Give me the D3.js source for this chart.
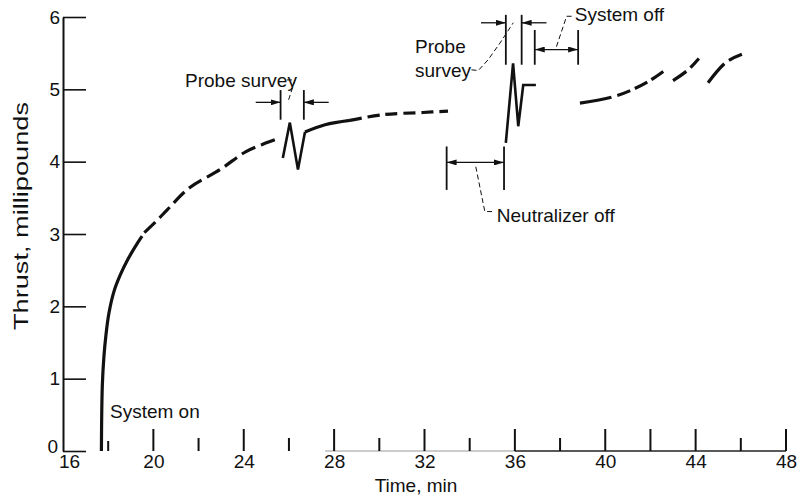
<!DOCTYPE html>
<html>
<head>
<meta charset="utf-8">
<script src="https://cdn.jsdelivr.net/npm/d3@7"></script>
<style>
  body { margin: 0; background: #fff; }
  svg { display: block; }
  text { font-family: "Liberation Sans", Arial, sans-serif; fill: #111; }
</style>
</head>
<body>
<script>
// time (min) vs thrust (millipounds)
var rampSolid = [[17.70, 0], [17.71, 0.4], [17.74, 0.9], [17.81, 1.3], [17.90, 1.6], [18.03, 1.9], [18.25, 2.2], [18.53, 2.43], [18.89, 2.66], [19.33, 2.89], [19.5, 2.97]];
var rampDashed = [[19.6, 3.02], [20.2, 3.2], [20.6, 3.33], [21.6, 3.64], [22.95, 3.89], [24.1, 4.14], [25.0, 4.26], [25.6, 4.33]];
var probe1Zig = [[25.73, 4.05], [26.04, 4.54], [26.4, 3.89], [26.71, 4.41]];
var plateauSolid = [[26.71, 4.41], [27.6, 4.51], [28.7, 4.57]];
var plateauDashed = [[28.7, 4.57], [30.16, 4.65], [31.93, 4.68], [33.04, 4.70]];
var probe2Zig = [[35.6, 4.26], [35.92, 5.36], [36.15, 4.49], [36.37, 5.06], [36.93, 5.06]];
var restartA = [[38.88, 4.81], [40.28, 4.89], [41.16, 4.99], [41.97, 5.12], [42.71, 5.28]];
var restartB = [[43.0, 5.12], [43.67, 5.27], [44.26, 5.47]];
var restartC = [[44.55, 5.09], [45.37, 5.38], [46.18, 5.50]];

var yTicks = [0, 1, 2, 3, 4, 5, 6];
var xLabels = [16, 20, 24, 28, 32, 36, 40, 44, 48];
var xTickMarks = [18, 20, 22, 24, 26, 28, 30, 32, 34, 36, 38, 40, 42, 44, 46, 48];

// interval brackets: t0/t1 = edges, vLo/vHi = vertical extent, vArrow = arrow level
var brackets = [
	{ t0: 25.63, t1: 26.66, vLo: 4.58, vHi: 4.99, vArrow: 4.82, inward: true, reach: 1.1 },
	{ t0: 35.6, t1: 36.3, vLo: 5.34, vHi: 6.03, vArrow: 5.92, inward: true, reach: 1.1 },
	{ t0: 36.88, t1: 38.8, vLo: 5.34, vHi: 5.82, vArrow: 5.55, inward: false },
	{ t0: 32.98, t1: 35.52, vLo: 3.61, vHi: 4.21, vArrow: 3.99, inward: false }
];
var leaders = [
	[[25.91, 5.13], [26.27, 5.13], [25.96, 4.83]],
	[[34.08, 5.27], [34.38, 5.26], [34.82, 5.41], [35.34, 5.64], [35.93, 5.92]],
	[[37.84, 5.59], [38.29, 6.01], [38.58, 6.01]],
	[[34.27, 3.93], [34.67, 3.31], [35.12, 3.31]]
];
var labels = [
	{ t: 18.08, v: 0.46, text: 'System on' },
	{ t: 21.4, v: 5.03, text: 'Probe survey' },
	{ t: 31.58, v: 5.5, text: 'Probe' },
	{ t: 31.58, v: 5.17, text: 'survey' },
	{ t: 38.65, v: 5.94, text: 'System off' },
	{ t: 35.2, v: 3.17, text: 'Neutralizer off' }
];

var width = 800, height = 499;
var x = d3.scaleLinear().domain([16, 48]).range([63, 786]);
var y = d3.scaleLinear().domain([0, 6]).range([451, 17]);

var svg = d3.select('body').append('svg')
	.attr('width', width)
	.attr('height', height);

svg.append('defs').append('marker')
	.attr('id', 'arrow')
	.attr('viewBox', '0 0 10 6')
	.attr('refX', 10).attr('refY', 3)
	.attr('markerWidth', 10).attr('markerHeight', 6)
	.attr('markerUnits', 'userSpaceOnUse')
	.attr('orient', 'auto-start-reverse')
	.append('path')
	.attr('d', 'M0,0 L10,3 L0,6 Z')
	.attr('fill', '#111');

// y axis, ticks pointing inward
var yAxis = d3.axisLeft(y).tickValues(yTicks).tickFormat(d3.format('d'))
	.tickSizeInner(-23).tickSizeOuter(0).tickPadding(3);
var gy = svg.append('g').attr('transform', 'translate(63,0)').call(yAxis);
gy.select('.domain').attr('stroke', '#111').attr('stroke-width', 2);
gy.selectAll('.tick line').attr('stroke', '#111').attr('stroke-width', 1.6);
gy.selectAll('.tick text')
	.attr('font-size', 19)
	.attr('font-family', '"Liberation Sans", Arial, sans-serif')
	.attr('dx', d => d === 0 ? -2 : 0)
	.attr('dy', d => d === 0 ? '0.1em' : '0.32em');

// x axis: partial baseline, upward ticks, labels
svg.append('line')
	.attr('x1', x(27.6)).attr('x2', x(36)).attr('y1', y(0)).attr('y2', y(0))
	.attr('stroke', '#999').attr('stroke-width', 1.2);
svg.append('line')
	.attr('x1', x(36)).attr('x2', x(48)).attr('y1', y(0)).attr('y2', y(0))
	.attr('stroke', '#222').attr('stroke-width', 1.4);

svg.append('g').selectAll('line')
	.data(xTickMarks)
	.join('line')
	.attr('x1', d => x(d)).attr('x2', d => x(d))
	.attr('y1', y(0))
	.attr('y2', d => y(0) - (d === 18 ? 10 : (d % 4 === 0 || d === 42) ? 22 : 13))
	.attr('stroke', '#111').attr('stroke-width', 2);

var xAxis = d3.axisBottom(x).tickValues(xLabels).tickSize(0).tickPadding(4);
var gx = svg.append('g').attr('transform', 'translate(0,' + y(0) + ')').call(xAxis);
gx.select('.domain').remove();
gx.selectAll('.tick text')
	.attr('font-size', 19)
	.attr('font-family', '"Liberation Sans", Arial, sans-serif')
	.attr('dx', d => d === 16 ? 6 : 0);

svg.append('text')
	.attr('x', 416).attr('y', 492)
	.attr('text-anchor', 'middle')
	.attr('font-size', 19)
	.text('Time, min');

svg.append('text')
	.attr('transform', 'translate(28,216) rotate(-90)')
	.attr('text-anchor', 'middle')
	.attr('font-size', 20)
	.attr('textLength', 228)
	.attr('lengthAdjust', 'spacingAndGlyphs')
	.text('Thrust, millipounds');

// thrust curve pieces
var smooth = d3.line().x(d => x(d[0])).y(d => y(d[1])).curve(d3.curveCatmullRom.alpha(0.5));
var straight = d3.line().x(d => x(d[0])).y(d => y(d[1]));

var pieces = [
	{ data: rampSolid, gen: smooth, dash: null, w: 3.2 },
	{ data: rampDashed, gen: smooth, dash: '15,6', w: 3.2 },
	{ data: probe1Zig, gen: straight, dash: null, w: 2.6 },
	{ data: plateauSolid, gen: smooth, dash: null, w: 3.2 },
	{ data: plateauDashed, gen: smooth, dash: '12,6', w: 3.2 },
	{ data: probe2Zig, gen: straight, dash: null, w: 2.6 },
	{ data: restartA, gen: smooth, dash: '32,6,14,5,14,5,14,5', w: 3.2 },
	{ data: restartB, gen: smooth, dash: '16,6,12', w: 3.2 },
	{ data: restartC, gen: smooth, dash: '25,6,14', w: 3.2 }
];

svg.append('g').selectAll('path')
	.data(pieces)
	.join('path')
	.attr('d', d => d.gen(d.data))
	.attr('fill', 'none')
	.attr('stroke', '#111')
	.attr('stroke-width', d => d.w)
	.attr('stroke-dasharray', d => d.dash);

// interval brackets
var gb = svg.append('g').attr('stroke', '#111').attr('fill', 'none');
brackets.forEach(b => {
	[b.t0, b.t1].forEach(t => {
		gb.append('line')
			.attr('x1', x(t)).attr('x2', x(t))
			.attr('y1', y(b.vLo)).attr('y2', y(b.vHi))
			.attr('stroke-width', 1.8);
	});
	if (b.inward) {
		gb.append('line')
			.attr('x1', x(b.t0 - b.reach)).attr('x2', x(b.t0))
			.attr('y1', y(b.vArrow)).attr('y2', y(b.vArrow))
			.attr('stroke-width', 1.3)
			.attr('marker-end', 'url(#arrow)');
		gb.append('line')
			.attr('x1', x(b.t1 + b.reach)).attr('x2', x(b.t1))
			.attr('y1', y(b.vArrow)).attr('y2', y(b.vArrow))
			.attr('stroke-width', 1.3)
			.attr('marker-end', 'url(#arrow)');
	} else {
		gb.append('line')
			.attr('x1', x(b.t0)).attr('x2', x(b.t1))
			.attr('y1', y(b.vArrow)).attr('y2', y(b.vArrow))
			.attr('stroke-width', 1.3)
			.attr('marker-start', 'url(#arrow)')
			.attr('marker-end', 'url(#arrow)');
	}
});

// dashed leaders to the labels
svg.append('g').selectAll('path')
	.data(leaders)
	.join('path')
	.attr('d', d => straight(d))
	.attr('fill', 'none')
	.attr('stroke', '#111')
	.attr('stroke-width', 1)
	.attr('stroke-dasharray', '5,3');

svg.append('g').selectAll('text')
	.data(labels)
	.join('text')
	.attr('x', d => x(d.t))
	.attr('y', d => y(d.v))
	.attr('font-size', 19)
	.text(d => d.text);
</script>
</body>
</html>
